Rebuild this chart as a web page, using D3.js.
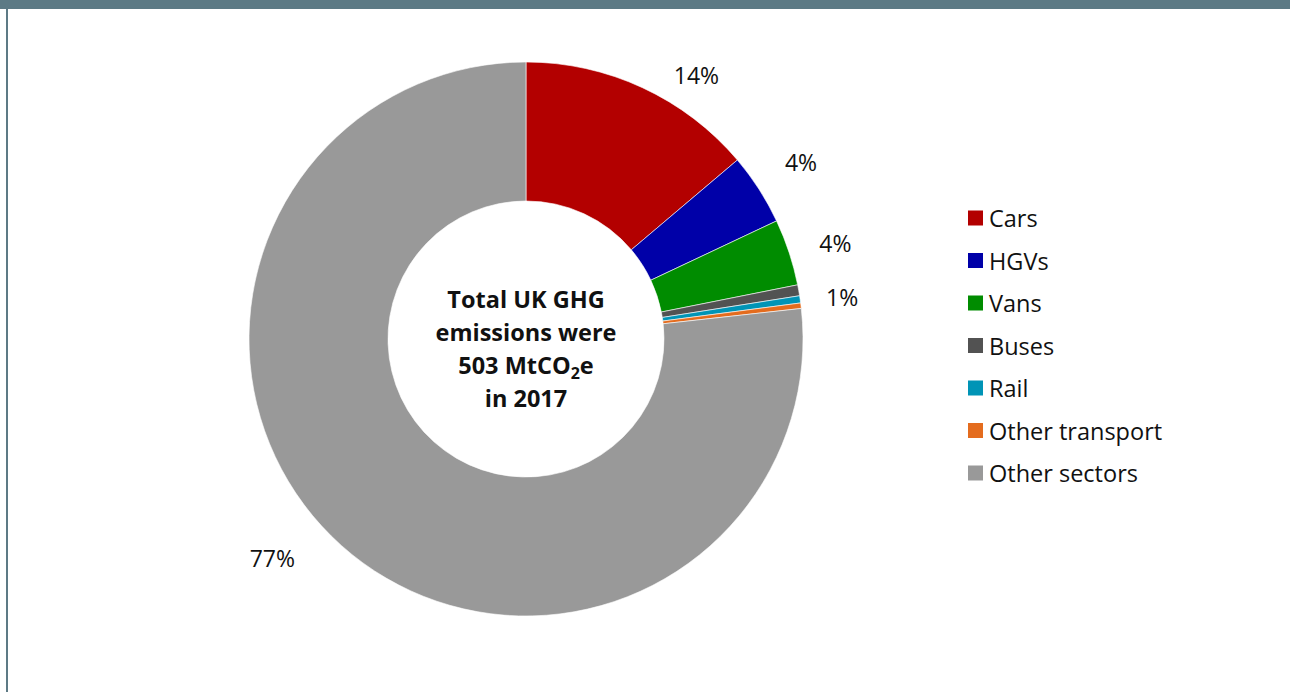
<!DOCTYPE html>
<html>
<head>
<meta charset="utf-8">
<script src="https://cdn.jsdelivr.net/npm/d3@7"></script>
<style>
  html, body { margin: 0; padding: 0; background: #fff; }
  svg { display: block; }
  text { font-family: "Open Sans", "Noto Sans", sans-serif; fill: #111; }
</style>
</head>
<body>
<svg id="chart" width="1290" height="692"></svg>
<script>
// UK greenhouse gas emissions by source, 2017 (MtCO2e)
const categories = ["Cars", "HGVs", "Vans", "Buses", "Rail", "Other transport", "Other sectors"];
const emissions  = [69.5, 21.0, 19.5, 3.2, 2.1, 1.6, 386.1];
const colors     = ["#b30000", "#0000a8", "#008c00", "#525252", "#0094b6", "#e46c1e", "#999999"];
const centreLines = ["Total UK GHG", "emissions were", "503 MtCO\u2082e", "in 2017"];

const svg = d3.select("#chart");
const W = 1290, H = 692;

// Frame: top band and left rule
svg.append("rect").attr("x", 0).attr("y", 0).attr("width", W).attr("height", 9).attr("fill", "#5d7a85");
svg.append("rect").attr("x", 6).attr("y", 0).attr("width", 2).attr("height", H).attr("fill", "#5d7a85");

const cx = 526, cy = 339, outerR = 277, innerR = 138;
const total = d3.sum(emissions);
const data = categories.map((c, i) => ({ name: c, value: emissions[i], color: colors[i] }));

const pie = d3.pie().value(d => d.value).sort(null);
const arcs = pie(data);
const arc = d3.arc().innerRadius(innerR).outerRadius(outerR);

const g = svg.append("g").attr("transform", `translate(${cx},${cy})`);

g.selectAll("path.slice")
  .data(arcs)
  .join("path")
  .attr("class", "slice")
  .attr("d", arc)
  .attr("fill", d => d.data.color)
  .attr("stroke", "#ffffff")
  .attr("stroke-width", 0.6);

// Percentage labels outside the ring (slices that round to 0% are left unlabelled)
const pct = d => Math.round(d.value / total * 100);
// angular nudge (degrees) and radius used to keep labels clear of each other
const labelTweak = {
  "Cars": { da: 8, r: 314 },
  "HGVs": { da: 0, r: 327 },
  "Vans": { da: 1, r: 324 },
  "Buses": { da: 2.5, r: 319 },
  "Other sectors": { da: 7.4, r: 335 }
};
arcs.filter(d => pct(d.data) >= 1).forEach(d => {
  const t = labelTweak[d.data.name] || { da: 0, r: 322 };
  const a = (d.startAngle + d.endAngle) / 2 + t.da * Math.PI / 180;
  g.append("text")
    .attr("x", Math.sin(a) * t.r)
    .attr("y", -Math.cos(a) * t.r)
    .attr("text-anchor", "middle")
    .attr("dominant-baseline", "central")
    .style("font-size", "23px")
    .text(pct(d.data) + "%");
});

// Centre caption
const lineH = 33;
const firstBaseline = -31;
centreLines.forEach((line, i) => {
  const t = g.append("text")
    .attr("x", 0)
    .attr("y", firstBaseline + i * lineH)
    .attr("text-anchor", "middle")
    .style("font-size", "23.5px")
    .style("font-weight", "bold");
  if (line.includes("\u2082")) {
    const [pre, post] = line.split("\u2082");
    t.append("tspan").text(pre);
    t.append("tspan").attr("dy", 5).style("font-size", "16px").text("2");
    t.append("tspan").attr("dy", -5).text(post);
  } else {
    t.text(line);
  }
});

// Legend
const legend = svg.append("g").attr("transform", "translate(968,218)");
const rowH = 42.5;
const rows = legend.selectAll("g.row")
  .data(data)
  .join("g")
  .attr("class", "row")
  .attr("transform", (d, i) => `translate(0,${i * rowH})`);
rows.append("rect")
  .attr("x", 0).attr("y", -7.5)
  .attr("width", 15).attr("height", 15)
  .attr("fill", d => d.color);
rows.append("text")
  .attr("x", 21).attr("y", 0)
  .attr("dominant-baseline", "central")
  .style("font-size", "23.5px")
  .text(d => d.name);
</script>
</body>
</html>
